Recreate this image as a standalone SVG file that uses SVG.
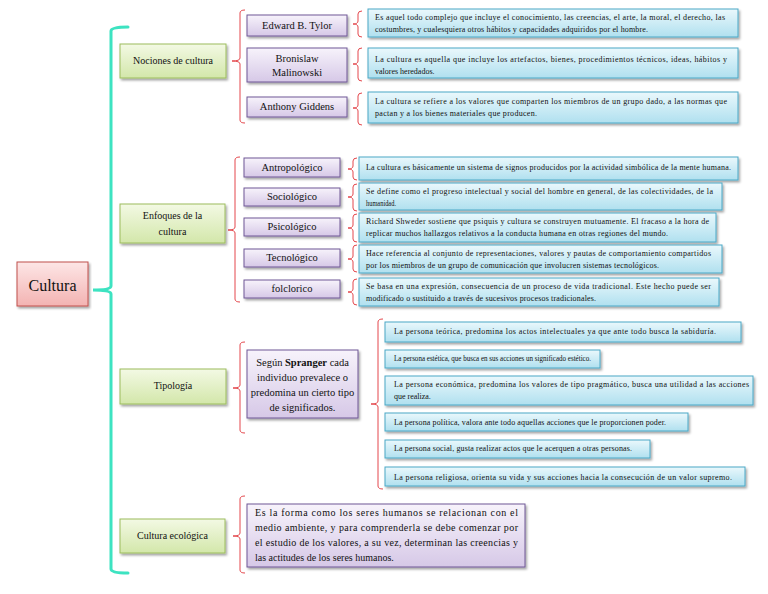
<svg xmlns="http://www.w3.org/2000/svg" width="768" height="594" viewBox="0 0 768 594" font-family="'Liberation Serif', 'DejaVu Serif', serif">
<defs>
<linearGradient id="gBlue" x1="0" y1="0" x2="0" y2="1"><stop offset="0" stop-color="#eaf8fc"/><stop offset="1" stop-color="#b0e0ef"/></linearGradient>
<linearGradient id="gPurple" x1="0" y1="0" x2="0" y2="1"><stop offset="0" stop-color="#f7f3fb"/><stop offset="1" stop-color="#d6c8e7"/></linearGradient>
<linearGradient id="gGreen" x1="0" y1="0" x2="0" y2="1"><stop offset="0" stop-color="#f3f9e4"/><stop offset="1" stop-color="#d3e7aa"/></linearGradient>
<linearGradient id="gPink" x1="0" y1="0" x2="0" y2="1"><stop offset="0" stop-color="#fde6e6"/><stop offset="1" stop-color="#f3b3b2"/></linearGradient>
<filter id="sh" x="-5%" y="-20%" width="110%" height="150%"><feDropShadow dx="1.5" dy="2" stdDeviation="0.8" flood-color="#000" flood-opacity="0.35"/></filter>
</defs>
<style>
text{font-family:'Liberation Serif','DejaVu Serif',serif;fill:#111}
.blue{fill:url(#gBlue);stroke:#4aa8c6;stroke-width:1;filter:url(#sh)}
.purple{fill:url(#gPurple);stroke:#6f5795;stroke-width:1;filter:url(#sh)}
.green{fill:url(#gGreen);stroke:#9cbc5c;stroke-width:1;filter:url(#sh)}
.pink{fill:url(#gPink);stroke:#c0504d;stroke-width:1;filter:url(#sh)}
.t8{font-size:8px}
.t10{font-size:10.5px}
.c{text-anchor:middle}
.br{fill:none;stroke:#e4474c;stroke-width:1}
.teal{fill:none;stroke:#3de3c1;stroke-width:3;stroke-linecap:round}
</style>
<rect width="768" height="594" fill="#fff"/>
<g id="connectors">
<path class="teal" d="M128,27 Q111,27 111,31 L111,286 Q111,290 93,290 Q111,290 111,294 L111,569 Q111,573 128,573"/>
<path class="br" d="M245,10 Q240,10 240,13 L240,58 Q240,61 232,61 Q240,61 240,64 L240,120 Q240,123 245,123"/>
<path class="br" d="M240,157 Q235,157 235,160 L235,227 Q235,230 228,230 Q235,230 235,233 L235,299 Q235,302 240,302"/>
<path class="br" d="M245,342 Q240,342 240,345 L240,385 Q240,388 233,388 Q240,388 240,391 L240,430 Q240,433 245,433"/>
<path class="br" d="M383,319 Q378,319 378,322 L378,401 Q378,404 371,404 Q378,404 378,407 L378,486 Q378,489 383,489"/>
<path class="br" d="M245,496 Q240,496 240,499 L240,533 Q240,536 233,536 Q240,536 240,539 L240,570 Q240,573 245,573"/>
<path class="br" d="M362,11 Q358,11 358,14 L358,21 Q358,24 353,24 Q358,24 358,27 L358,34 Q358,37 362,37"/>
<path class="br" d="M362,48 Q358,48 358,51 L358,61 Q358,64 353,64 Q358,64 358,67 L358,78 Q358,81 362,81"/>
<path class="br" d="M362,93 Q358,93 358,96 L358,105 Q358,108 353,108 Q358,108 358,111 L358,122 Q358,125 362,125"/>
<path class="br" d="M357,158 Q353,158 353,161 L353,166 Q353,169 348,169 Q353,169 353,172 L353,177 Q353,180 357,180"/>
<path class="br" d="M357,184 Q353,184 353,187 L353,194 Q353,197 348,197 Q353,197 353,200 L353,208 Q353,211 357,211"/>
<path class="br" d="M357,214 Q353,214 353,217 L353,225 Q353,228 348,228 Q353,228 353,231 L353,239 Q353,242 357,242"/>
<path class="br" d="M357,245 Q353,245 353,248 L353,256 Q353,259 348,259 Q353,259 353,262 L353,269 Q353,272 357,272"/>
<path class="br" d="M357,279 Q353,279 353,282 L353,289 Q353,292 348,292 Q353,292 353,295 L353,302 Q353,305 357,305"/>
</g>
<g id="cultura"><rect class="pink" x="17" y="262" width="71" height="44"/><text x="52.5" y="291" class="c" style="font-size:16px">Cultura</text></g>
<g id="nociones"><rect class="green" x="120" y="44" width="106" height="34"/><text x="173" y="64" class="c" style="font-size:10px">Nociones de cultura</text></g>
<g id="enfoques"><rect class="green" x="120" y="204" width="105" height="39"/><text x="172.5" y="219" class="c" style="font-size:10px">Enfoques de la</text><text x="172.5" y="235" class="c" style="font-size:10px">cultura</text></g>
<g id="tipologia"><rect class="green" x="120" y="369" width="106" height="35"/><text x="173" y="389" class="c" style="font-size:10px">Tipología</text></g>
<g id="ecologica"><rect class="green" x="120" y="519" width="105" height="34"/><text x="172.5" y="539" class="c" style="font-size:10px">Cultura ecológica</text></g>

<g id="tylor"><rect class="purple" x="247" y="15" width="100" height="21"/><text x="297" y="29" class="c t10">Edward B. Tylor</text></g>
<g id="malinowski"><rect class="purple" x="247" y="48" width="100" height="34"/><text x="297" y="62" class="c t10">Bronislaw</text><text x="297" y="76" class="c t10">Malinowski</text></g>
<g id="giddens"><rect class="purple" x="247" y="97" width="100" height="20"/><text x="297" y="110" class="c t10">Anthony Giddens</text></g>

<g id="tylor-def"><rect class="blue" x="368" y="9" width="370" height="28"/><text x="375" y="20" class="t8" textLength="350" lengthAdjust="spacing">Es aquel todo complejo que incluye el conocimiento, las creencias, el arte, la moral, el derecho, las</text><text x="375" y="32" class="t8" textLength="273" lengthAdjust="spacing">costumbres, y cualesquiera otros hábitos y capacidades adquiridos por el hombre.</text></g>
<g id="malinowski-def"><rect class="blue" x="368" y="48" width="370" height="30"/><text x="375" y="62" class="t8" textLength="352" lengthAdjust="spacing">La cultura es aquella que incluye los artefactos, bienes, procedimientos técnicos, ideas, hábitos y</text><text x="375" y="74" class="t8">valores heredados.</text></g>
<g id="giddens-def"><rect class="blue" x="368" y="92" width="370" height="31"/><text x="375" y="104" class="t8" textLength="352" lengthAdjust="spacing">La cultura se refiere a los valores que comparten los miembros de un grupo dado, a las normas que</text><text x="375" y="116" class="t8" textLength="162" lengthAdjust="spacing">pactan y a los bienes materiales que producen.</text></g>

<g id="antropologico"><rect class="purple" x="244" y="158" width="96" height="19"/><text x="292" y="171" class="c t10">Antropológico</text></g>
<g id="sociologico"><rect class="purple" x="244" y="188" width="96" height="18"/><text x="292" y="200" class="c t10">Sociológico</text></g>
<g id="psicologico"><rect class="purple" x="244" y="218" width="96" height="18"/><text x="292" y="230" class="c t10">Psicológico</text></g>
<g id="tecnologico"><rect class="purple" x="244" y="249" width="96" height="18"/><text x="292" y="261" class="c t10">Tecnológico</text></g>
<g id="folclorico"><rect class="purple" x="244" y="280" width="96" height="18"/><text x="292" y="292" class="c t10">folclorico</text></g>

<g id="antropologico-def"><rect class="blue" x="359" y="157" width="379" height="23"/><text x="366" y="170" class="t8" textLength="365" lengthAdjust="spacing">La cultura es básicamente un sistema de signos  producidos por la actividad simbólica de la mente humana.</text></g>
<g id="sociologico-def"><rect class="blue" x="359" y="183" width="363" height="27"/><text x="366" y="194" class="t8" textLength="347" lengthAdjust="spacing">Se define como el progreso intelectual y social del hombre en general, de las colectividades, de la</text><text x="366" y="206" class="t8" textLength="30" lengthAdjust="spacingAndGlyphs">humanidad.</text></g>
<g id="psicologico-def"><rect class="blue" x="359" y="213" width="357" height="29"/><text x="366" y="224" class="t8" textLength="343" lengthAdjust="spacing">Richard Shweder sostiene que psiquis y cultura se construyen mutuamente. El fracaso a la hora de</text><text x="366" y="236" class="t8" textLength="302" lengthAdjust="spacing">replicar muchos hallazgos relativos a la conducta humana en otras regiones del mundo.</text></g>
<g id="tecnologico-def"><rect class="blue" x="359" y="245" width="363" height="28"/><text x="366" y="256" class="t8" textLength="345" lengthAdjust="spacing">Hace referencia al conjunto de representaciones, valores y pautas de comportamiento compartidos</text><text x="366" y="268" class="t8" textLength="293" lengthAdjust="spacing">por los miembros de un grupo de comunicación que involucren sistemas tecnológicos.</text></g>
<g id="folclorico-def"><rect class="blue" x="359" y="278" width="360" height="28"/><text x="366" y="289" class="t8" textLength="345" lengthAdjust="spacing">Se basa en una expresión, consecuencia de un proceso de vida tradicional. Este hecho puede ser</text><text x="366" y="301" class="t8" textLength="230" lengthAdjust="spacing">modificado o sustituido a través de sucesivos procesos tradicionales.</text></g>

<g id="spranger"><rect class="purple" x="247" y="350" width="111" height="68"/><text x="302.5" y="366" class="c t10">Según <tspan font-weight="bold">Spranger</tspan> cada</text><text x="302.5" y="381" class="c t10">individuo prevalece o</text><text x="302.5" y="396" class="c t10">predomina un cierto tipo</text><text x="302.5" y="411" class="c t10">de significados.</text></g>

<g id="teorica"><rect class="blue" x="385" y="322" width="356" height="20"/><text x="394" y="334" class="t8" textLength="322" lengthAdjust="spacing">La persona teórica, predomina los actos intelectuales ya que ante todo busca la sabiduría.</text></g>
<g id="estetica"><rect class="blue" x="385" y="350" width="215" height="18"/><text x="394" y="361" class="t8" textLength="197" lengthAdjust="spacingAndGlyphs">La persona  estética, que busca en sus acciones un significado estético.</text></g>
<g id="economica"><rect class="blue" x="385" y="376" width="368" height="29"/><text x="394" y="387" class="t8" textLength="355" lengthAdjust="spacing">La persona  económica, predomina los valores de tipo pragmático, busca  una  utilidad a las acciones</text><text x="394" y="399" class="t8">que realiza.</text></g>
<g id="politica"><rect class="blue" x="385" y="413" width="303" height="18"/><text x="394" y="425" class="t8" textLength="272" lengthAdjust="spacing">La persona  política, valora ante todo aquellas acciones que le proporcionen poder.</text></g>
<g id="social"><rect class="blue" x="385" y="440" width="265" height="18"/><text x="394" y="451" class="t8" textLength="238" lengthAdjust="spacing">La persona  social, gusta  realizar actos que le acerquen a otras personas.</text></g>
<g id="religiosa"><rect class="blue" x="385" y="467" width="360" height="19"/><text x="394" y="480" class="t8" textLength="338" lengthAdjust="spacing">La persona  religiosa, orienta su vida y sus acciones hacia la consecución de un valor supremo.</text></g>

<g id="ecologica-def"><rect class="purple" x="247" y="504" width="278" height="63"/><text x="255" y="516" style="font-size:10px" textLength="263" lengthAdjust="spacing">Es la forma como los seres humanos se relacionan con el</text><text x="255" y="531" style="font-size:10px" textLength="263" lengthAdjust="spacing">medio ambiente, y para comprenderla se debe comenzar por</text><text x="255" y="546" style="font-size:10px" textLength="263" lengthAdjust="spacing">el estudio de los valores, a su vez, determinan las creencias y</text><text x="255" y="561" style="font-size:10px">las actitudes de los seres humanos.</text></g>
</svg>
